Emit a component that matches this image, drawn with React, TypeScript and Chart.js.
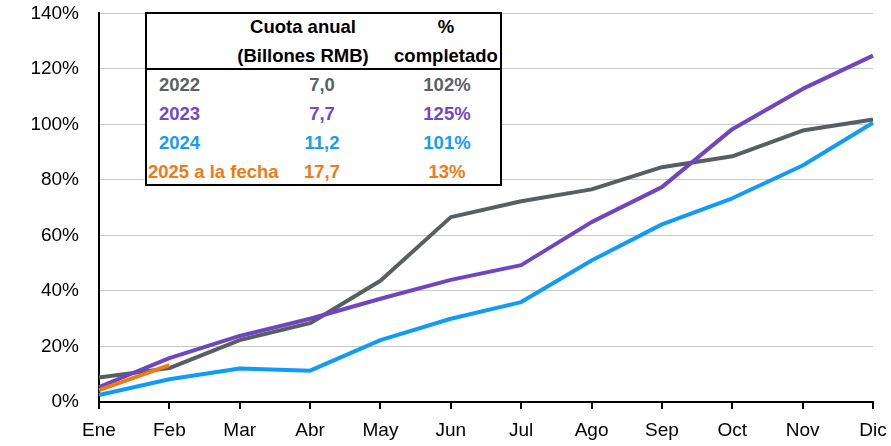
import React, { useEffect, useRef } from "react";
import { Chart, registerables } from "chart.js";

Chart.register(...registerables);

const months = ["Ene", "Feb", "Mar", "Abr", "May", "Jun", "Jul", "Ago", "Sep", "Oct", "Nov", "Dic"];
const s2022 = [8.8, 12.2, 22.3, 28.4, 43.7, 66.6, 72.3, 76.6, 84.6, 88.5, 97.8, 101.8];
const s2023 = [5.4, 15.8, 23.8, 30.0, 37.2, 44.0, 49.3, 64.8, 77.4, 98.3, 112.8, 124.8];
const s2024 = [2.5, 8.2, 12.1, 11.3, 22.3, 30.0, 36.0, 51.0, 64.0, 73.4, 85.2, 100.6];
const s2025 = [4.3, 13.3, null, null, null, null, null, null, null, null, null, null];
const yTicks = [0, 20, 40, 60, 80, 100, 120, 140];

const tableHeader = [["Cuota anual", "(Billones RMB)"], ["%", "completado"]];
const tableYears = ["2022", "2023", "2024", "2025 a la fecha"];
const tableQuota = ["7,0", "7,7", "11,2", "17,7"];
const tablePct = ["102%", "125%", "101%", "13%"];

const cGray = "#585e61";
const cPurple = "#7046c0";
const cBlue = "#109cf6";
const cOrange = "#ee7a12";
const rowColors = ["#5c6164", "#7448c4", "#169cf2", "#f07a14"];

const FONT = "'Liberation Sans', Arial, sans-serif";

export default function App() {
  const ref = useRef<HTMLCanvasElement | null>(null);

  useEffect(() => {
    if (!ref.current) return;
    const chart = new Chart(ref.current, {
      type: "line",
      data: {
        labels: months,
        datasets: [
          { label: "2022", data: s2022, borderColor: cGray, order: 3 },
          { label: "2023", data: s2023, borderColor: cPurple, order: 2 },
          { label: "2024", data: s2024, borderColor: cBlue, order: 1 },
          { label: "2025", data: s2025, borderColor: cOrange, order: 0 },
        ].map((d) => ({
          ...d,
          borderWidth: 4,
          pointRadius: 0,
          tension: 0,
          fill: false,
          spanGaps: false,
          borderCapStyle: "butt" as const,
          borderJoinStyle: "round" as const,
        })),
      },
      options: {
        animation: false,
        responsive: false,
        maintainAspectRatio: false,
        layout: { padding: { top: 0, right: 18, left: 0, bottom: 0 } },
        plugins: { legend: { display: false }, tooltip: { enabled: false } },
        scales: {
          x: {
            offset: false,
            grid: { drawOnChartArea: false, drawTicks: true, tickLength: 7, color: "#000", lineWidth: 2 },
            border: { color: "#000", width: 2 },
            ticks: {
              font: { family: FONT, size: 19, lineHeight: 1.95 },
              color: "#000",
              padding: 3,
              maxRotation: 0,
              autoSkip: false,
            },
            afterFit: (s: any) => {
              s.height = 44;
            },
          },
          y: {
            min: 0,
            max: 140,
            afterBuildTicks: (s: any) => {
              s.ticks = yTicks.map((v) => ({ value: v }));
            },
            grid: {
              color: "#c8c8c8",
              lineWidth: 1,
              drawTicks: true,
              tickLength: 18,
              tickColor: "rgba(0,0,0,0)",
            },
            border: { color: "#000", width: 2 },
            ticks: {
              font: { family: FONT, size: 19 },
              color: "#000",
              padding: 2,
              callback: (v: any) => v + "%",
            },
            afterFit: (s: any) => {
              s.width = 99;
            },
          },
        },
      },
    });
    return () => chart.destroy();
  }, []);

  const textBase: React.CSSProperties = {
    position: "absolute",
    fontFamily: FONT,
    fontWeight: "bold",
    fontSize: "18.5px",
    lineHeight: "1",
    whiteSpace: "nowrap",
  };
  const centered = (x: number, y: number, color: string): React.CSSProperties => ({
    ...textBase,
    left: x,
    top: y,
    color,
    transform: "translate(-50%, -50%)",
  });
  const rowY = [85, 114, 143, 172];

  return (
    <div style={{ position: "absolute", left: 0, top: 0, width: 891, height: 446, background: "#fff" }}>
      <canvas ref={ref} width={891} height={446} style={{ width: 891, height: 446, display: "block" }} />
      <div
        style={{
          position: "absolute",
          left: 145,
          top: 12,
          width: 357,
          height: 174,
          boxSizing: "border-box",
          border: "2px solid #000",
          background: "#fff",
        }}
      />
      <div style={{ position: "absolute", left: 145, top: 68, width: 357, height: 2, background: "#000" }} />
      <div style={centered(303, 27, "#000")}>{tableHeader[0][0]}</div>
      <div style={centered(303, 56, "#000")}>{tableHeader[0][1]}</div>
      <div style={centered(446, 27, "#000")}>{tableHeader[1][0]}</div>
      <div style={centered(446, 56, "#000")}>{tableHeader[1][1]}</div>
      {tableYears.map((y, i) => (
        <div
          key={y}
          style={{
            ...textBase,
            left: i === 3 ? 148 : 159,
            top: rowY[i],
            color: rowColors[i],
            transform: "translateY(-50%)",
          }}
        >
          {y}
        </div>
      ))}
      {tableQuota.map((q, i) => (
        <div key={"q" + i} style={centered(322, rowY[i], rowColors[i])}>
          {q}
        </div>
      ))}
      {tablePct.map((p, i) => (
        <div key={"p" + i} style={centered(447, rowY[i], rowColors[i])}>
          {p}
        </div>
      ))}
    </div>
  );
}
